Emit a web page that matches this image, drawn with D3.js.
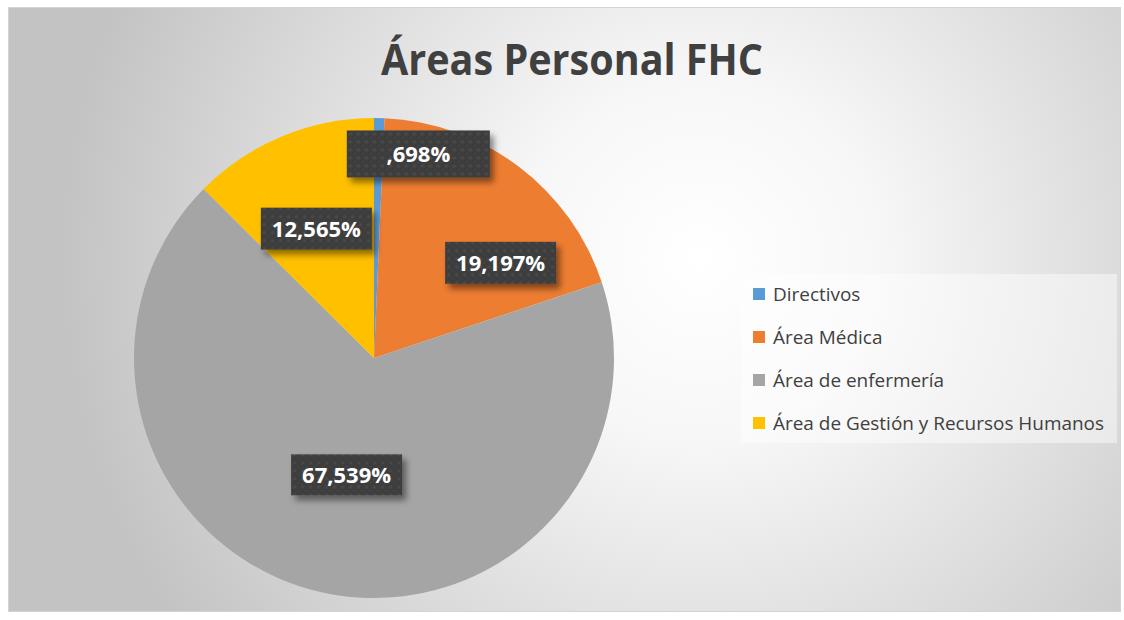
<!DOCTYPE html>
<html>
<head>
<meta charset="utf-8">
<script src="https://cdn.jsdelivr.net/npm/d3@7"></script>
<style>
  body { margin: 0; background: #ffffff; }
  #chart { width: 1124px; height: 620px; }
  text { font-family: "Open Sans", "Noto Sans", sans-serif; }
</style>
</head>
<body>
<div id="chart"></div>
<script>
// datos del grafico
var categories = ["Directivos", "Área Médica", "Área de enfermería", "Área de Gestión y Recursos Humanos"];
var values = [0.698, 19.197, 67.539, 12.565];
var colors = ["#5B9BD5", "#ED7D31", "#A5A5A5", "#FFC000"];
var title = "Áreas Personal FHC";

// ajuste de etiquetas (como "mejor ajuste" de Excel)
var labelRadius = [0.87, 0.66, 0.5, 0.59];
var labelAngleShift = [11, 16, 0, -1.4];
var boxW = [143, 111, 111, 111];
var boxH = [47, 42, 41, 42];

var width = 1124, height = 620;
var svg = d3.select("#chart")
	.append("svg")
	.attr("width", width)
	.attr("height", height);

var defs = svg.append("defs");

var grad = defs.append("radialGradient")
	.attr("id", "bg")
	.attr("gradientUnits", "userSpaceOnUse")
	.attr("cx", 700).attr("cy", 260).attr("r", 640);
grad.append("stop").attr("offset", "0%").attr("stop-color", "#ffffff");
grad.append("stop").attr("offset", "28%").attr("stop-color", "#f7f7f7");
grad.append("stop").attr("offset", "100%").attr("stop-color", "#c3c3c3");

var pat = defs.append("pattern")
	.attr("id", "dots")
	.attr("patternUnits", "userSpaceOnUse")
	.attr("width", 8).attr("height", 8);
pat.append("rect").attr("width", 8).attr("height", 8).attr("fill", "#3e3e3e");
pat.append("circle").attr("cx", 4).attr("cy", 4).attr("r", 1.6).attr("fill", "#4a4a4a");
pat.append("circle").attr("cx", 0).attr("cy", 0).attr("r", 1.1).attr("fill", "#444444");
pat.append("circle").attr("cx", 8).attr("cy", 0).attr("r", 1.1).attr("fill", "#444444");
pat.append("circle").attr("cx", 0).attr("cy", 8).attr("r", 1.1).attr("fill", "#444444");
pat.append("circle").attr("cx", 8).attr("cy", 8).attr("r", 1.1).attr("fill", "#444444");

var shadow = defs.append("filter")
	.attr("id", "shadow")
	.attr("x", "-20%").attr("y", "-30%")
	.attr("width", "150%").attr("height", "180%");
shadow.append("feDropShadow")
	.attr("dx", 4).attr("dy", 5)
	.attr("stdDeviation", 3)
	.attr("flood-color", "#000000")
	.attr("flood-opacity", 0.45);

// fondo del area del grafico
svg.append("rect")
	.attr("x", 8.5).attr("y", 7.5)
	.attr("width", 1112).attr("height", 604)
	.attr("fill", "url(#bg)")
	.attr("stroke", "#d4d4d4")
	.attr("stroke-width", 1);

// titulo
var t = svg.append("text")
	.attr("x", 572)
	.attr("y", 75)
	.attr("text-anchor", "middle")
	.attr("font-size", 43)
	.attr("font-weight", "bold")
	.attr("fill", "#404040")
	.text(title);
var tw = t.node().getComputedTextLength();
if (tw > 382) {
	t.attr("textLength", 382).attr("lengthAdjust", "spacingAndGlyphs");
}

// pastel
var cx = 374, cy = 358, r = 240;
var pie = d3.pie().sort(null).value(function(d) { return d; });
var arcs = pie(values);
var arc = d3.arc().innerRadius(0).outerRadius(r);

var g = svg.append("g").attr("transform", "translate(" + cx + "," + cy + ")");
g.selectAll("path.slice")
	.data(arcs)
	.enter()
	.append("path")
	.attr("class", "slice")
	.attr("d", arc)
	.attr("fill", function(d, i) { return colors[i]; });

// formato 0,698 -> ,698%
var es = d3.formatLocale({ decimal: ",", thousands: ".", grouping: [3], currency: ["", "€"] });
var fmt = es.format(".3f");
function labelText(v) {
	var s = fmt(v);
	if (s.indexOf("0,") === 0) s = s.slice(1);
	return s + "%";
}

var labels = g.selectAll("g.lbl")
	.data(arcs)
	.enter()
	.append("g")
	.attr("class", "lbl")
	.attr("transform", function(d, i) {
		var a = (d.startAngle + d.endAngle) / 2 + labelAngleShift[i] * Math.PI / 180;
		var rr = r * labelRadius[i];
		return "translate(" + (Math.sin(a) * rr) + "," + (-Math.cos(a) * rr) + ")";
	});

labels.append("rect")
	.attr("x", function(d, i) { return -boxW[i] / 2; })
	.attr("y", function(d, i) { return -boxH[i] / 2; })
	.attr("width", function(d, i) { return boxW[i]; })
	.attr("height", function(d, i) { return boxH[i]; })
	.attr("fill", "url(#dots)")
	.attr("filter", "url(#shadow)");

labels.append("text")
	.attr("text-anchor", "middle")
	.attr("dy", "0.36em")
	.attr("font-size", 22)
	.attr("font-weight", "bold")
	.attr("fill", "#ffffff")
	.text(function(d) { return labelText(d.data); });

// leyenda
var legend = svg.append("g").attr("transform", "translate(741,274)");
legend.append("rect")
	.attr("width", 376).attr("height", 169)
	.attr("fill", "#ffffff")
	.attr("fill-opacity", 0.45);

var ly = d3.scalePoint()
	.domain(categories)
	.range([20, 149]);

var items = legend.selectAll("g.item")
	.data(categories)
	.enter()
	.append("g")
	.attr("class", "item")
	.attr("transform", function(d) { return "translate(0," + ly(d) + ")"; });

items.append("rect")
	.attr("x", 12).attr("y", -6)
	.attr("width", 12).attr("height", 12)
	.attr("fill", function(d, i) { return colors[i]; });

items.append("text")
	.attr("x", 32)
	.attr("dy", "0.36em")
	.attr("font-size", 19)
	.attr("fill", "#404040")
	.text(function(d) { return d; });

// ajustar ancho del texto de la leyenda al original
var longest = items.selectAll("text").nodes()[3];
var lw = longest.getComputedTextLength();
if (lw > 331) {
	var k = 331 / lw;
	items.selectAll("text").each(function() {
		var w = this.getComputedTextLength();
		d3.select(this).attr("textLength", w * k).attr("lengthAdjust", "spacingAndGlyphs");
	});
}
</script>
</body>
</html>
